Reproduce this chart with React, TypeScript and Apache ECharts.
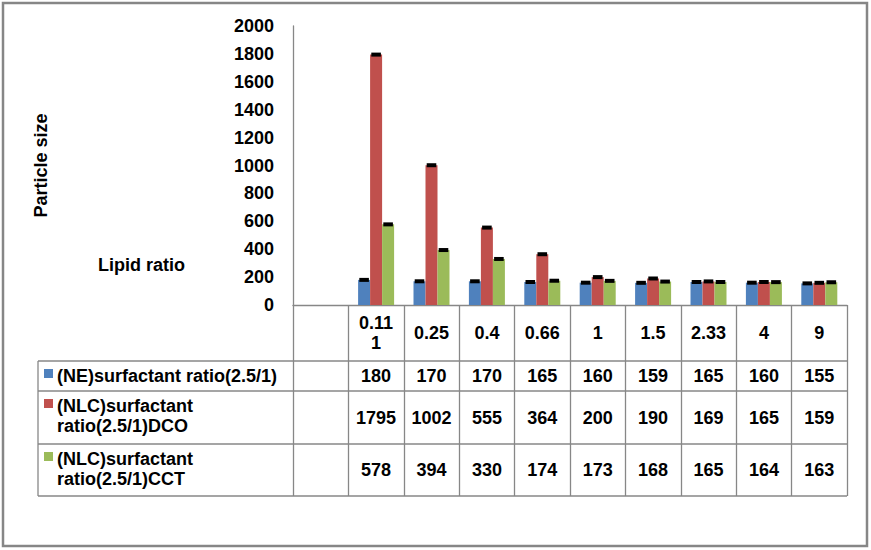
import React, { useEffect, useRef } from 'react';
import * as echarts from 'echarts';

const categories = ['', '0.111', '0.25', '0.4', '0.66', '1', '1.5', '2.33', '4', '9'];
const seriesNames = [
  '(NE)surfactant ratio(2.5/1)',
  '(NLC)surfactant ratio(2.5/1)DCO',
  '(NLC)surfactant ratio(2.5/1)CCT',
];
const neValues = [null, 180, 170, 170, 165, 160, 159, 165, 160, 155];
const dcoValues = [null, 1795, 1002, 555, 364, 200, 190, 169, 165, 159];
const cctValues = [null, 578, 394, 330, 174, 173, 168, 165, 164, 163];
const yMin = 0;
const yMax = 2000;
const yInterval = 200;
const yTitle = 'Particle size';
const xTitle = 'Lipid ratio';

const colors = ['#4F81BD', '#C0504D', '#9BBB59'];
const FONT = '"Liberation Sans", Arial, sans-serif';
const LINE = '#878787';

export default function App() {
  const ref = useRef<HTMLDivElement>(null);
  useEffect(() => {
    document.body.style.margin = '0';
    const chart = echarts.init(ref.current!, null, { renderer: 'svg' });
    const allValues = [neValues, dcoValues, cctValues];

    const axisTop = 305;
    const rowEdges = [305, 361, 391, 444, 496];
    const gridLeft = 293;
    const gridRight = 847;
    const tableLeft = 38;
    const catGap = 0.35;

    const txt = { fontFamily: FONT, fontWeight: 'bold' as const, fontSize: 18, color: '#000' };

    const valueAxes = allValues.map((vals, k) => ({
      type: 'category',
      gridIndex: 0,
      position: 'bottom',
      data: vals.map((v) => (v == null ? '' : String(v))),
      offset: (rowEdges[k + 1] + rowEdges[k + 2]) / 2 - axisTop,
      axisLine: { show: false },
      axisTick: { show: false },
      axisLabel: { ...txt, margin: 0, verticalAlign: 'middle', interval: 0 },
      splitLine: { show: false },
    }));

    const capSeries = allValues.map((vals, k) => ({
      type: 'custom',
      name: seriesNames[k] + ' cap',
      xAxisIndex: 0,
      yAxisIndex: 0,
      z: 5,
      data: vals.map((v, i) => [i, v]).filter((d) => d[1] != null),
      renderItem: (params: any, api: any) => {
        const p = api.coord([api.value(0), api.value(1)]);
        const catW = api.size([1, 0])[0];
        const barW = (catW * (1 - catGap)) / 3;
        const cx = p[0] + (k - 1) * barW;
        const capW = barW * 0.8;
        return {
          type: 'rect',
          shape: { x: cx - capW / 2, y: p[1] - 2, width: capW, height: 4 },
          style: { fill: '#000' },
        };
      },
    }));

    const graphics: any[] = [
      {
        type: 'rect',
        shape: { x: 3, y: 3, width: 864, height: 543 },
        style: { fill: 'none', stroke: '#868686', lineWidth: 2.5 },
        silent: true,
      },
      {
        type: 'text',
        x: 98,
        y: 265,
        style: { text: xTitle, font: `bold 18px ${FONT}`, fill: '#000', verticalAlign: 'middle' },
      },
      {
        type: 'line',
        shape: { x1: tableLeft, y1: rowEdges[1], x2: tableLeft, y2: rowEdges[4] },
        style: { stroke: LINE, lineWidth: 1.3 },
      },
    ];
    for (let r = 1; r < rowEdges.length; r++) {
      graphics.push({
        type: 'line',
        shape: { x1: tableLeft, y1: rowEdges[r], x2: gridRight, y2: rowEdges[r] },
        style: { stroke: LINE, lineWidth: 1.3 },
      });
    }
    seriesNames.forEach((name, k) => {
      const top = rowEdges[k + 1];
      const wrapped = name.length > 28 ? name.replace(' ', '\n') : name;
      graphics.push({
        type: 'rect',
        shape: { x: 44, y: top + 8, width: 9, height: 9 },
        style: { fill: colors[k] },
      });
      graphics.push({
        type: 'text',
        x: 57,
        y: top + 5,
        style: {
          text: wrapped,
          font: `bold 18px ${FONT}`,
          fill: '#000',
          lineHeight: 20,
          verticalAlign: 'top',
        },
      });
    });

    chart.setOption({
      animation: false,
      grid: { left: gridLeft, right: 871 - gridRight, top: 26, bottom: 550 - axisTop, containLabel: false },
      xAxis: [
        {
          type: 'category',
          data: categories,
          position: 'bottom',
          axisLine: { show: true, lineStyle: { color: LINE, width: 1.3 } },
          axisTick: {
            show: true,
            alignWithLabel: false,
            length: rowEdges[4] - axisTop,
            interval: 0,
            lineStyle: { color: LINE, width: 1.3 },
          },
          axisLabel: {
            ...txt,
            interval: 0,
            margin: (rowEdges[0] + rowEdges[1]) / 2 - axisTop,
            verticalAlign: 'middle',
            width: 44,
            overflow: 'breakAll',
            lineHeight: 20,
          },
          splitLine: { show: false },
        },
        ...valueAxes,
      ],
      yAxis: {
        type: 'value',
        min: yMin,
        max: yMax,
        interval: yInterval,
        name: yTitle,
        nameLocation: 'middle',
        nameRotate: 90,
        nameGap: 243,
        nameTextStyle: { ...txt },
        axisLine: { show: true, lineStyle: { color: LINE, width: 1.3 } },
        axisTick: { show: false },
        splitLine: { show: false },
        axisLabel: { ...txt, margin: 19, formatter: (v: number) => String(v) },
      },
      series: [
        ...allValues.map((vals, k) => ({
          type: 'bar',
          name: seriesNames[k],
          data: vals,
          barGap: '0%',
          barCategoryGap: catGap * 100 + '%',
          itemStyle: { color: colors[k] },
        })),
        ...capSeries,
      ],
      graphic: graphics,
    });
    return () => chart.dispose();
  }, []);
  return <div ref={ref} style={{ width: 871, height: 550 }} />;
}
